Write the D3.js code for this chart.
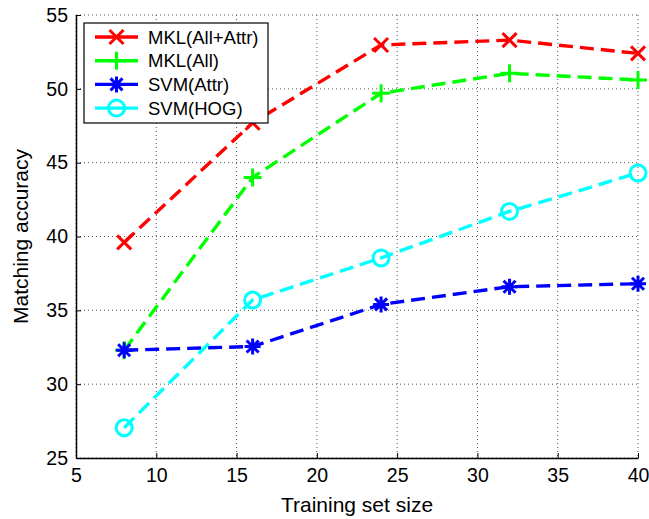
<!DOCTYPE html>
<html><head><meta charset="utf-8">
<script src="https://cdn.jsdelivr.net/npm/d3@7"></script>
<style>body{margin:0;background:#fff}svg{display:block}text{font-family:"Liberation Sans",Arial,sans-serif;fill:#000}</style>
</head><body><svg id="c" width="649" height="519"></svg>
<script>
const trainSizes = [8, 16, 24, 32, 40];
const mklAllAttr = [39.6, 47.7, 52.97, 53.3, 52.4];
const mklAll = [32.3, 44.0, 49.7, 51.05, 50.6];
const svmAttr = [32.3, 32.55, 35.4, 36.6, 36.8];
const svmHog = [27.05, 35.7, 38.55, 41.7, 44.3];
const xTicks = [5, 10, 15, 20, 25, 30, 35, 40];
const yTicks = [25, 30, 35, 40, 45, 50, 55];
const seriesNames = ["MKL(All+Attr)", "MKL(All)", "SVM(Attr)", "SVM(HOG)"];
const seriesColors = ["#ff0000", "#00ff00", "#0000ff", "#00ffff"];
const seriesMarkers = ["x", "plus", "star", "circle"];
const seriesValues = [mklAllAttr, mklAll, svmAttr, svmHog];

const svg = d3.select("#c");
const L = 76, R = 638, T = 15, B = 458;
const x = d3.scaleLinear().domain([5, 40]).range([L, R]);
const y = d3.scaleLinear().domain([25, 55]).range([B, T]);

// grid
const g = svg.append("g");
g.selectAll(".vg").data(xTicks).join("line")
  .attr("x1", d => x(d)).attr("x2", d => x(d)).attr("y1", T).attr("y2", B)
  .attr("stroke", "#555").attr("stroke-width", 1).attr("stroke-dasharray", "1,3");
g.selectAll(".hg").data(yTicks).join("line")
  .attr("x1", L).attr("x2", R).attr("y1", d => y(d)).attr("y2", d => y(d))
  .attr("stroke", "#555").attr("stroke-width", 1).attr("stroke-dasharray", "1,3");

// axes
const xAxis = d3.axisBottom(x).tickValues(xTicks).tickSizeInner(-5).tickSizeOuter(0).tickPadding(10);
const yAxis = d3.axisLeft(y).tickValues(yTicks).tickSizeInner(-5).tickSizeOuter(0).tickPadding(8);
const gx = svg.append("g").attr("transform", `translate(0,${B})`).call(xAxis);
const gy = svg.append("g").attr("transform", `translate(${L},0)`).call(yAxis);
[gx, gy].forEach(a => {
  a.select(".domain").attr("stroke", "#000").attr("stroke-width", 1.5);
  a.selectAll(".tick line").attr("stroke", "#000");
  a.selectAll(".tick text").style("font-size", "19.5px").style("font-family", '"Liberation Sans",Arial,sans-serif').attr("fill", "#000");
});

svg.append("text").attr("x", (L + R) / 2).attr("y", 512).attr("text-anchor", "middle")
  .style("font-size", "21px").text("Training set size");
svg.append("text").attr("transform", `translate(28,${(T + B) / 2}) rotate(-90)`).attr("text-anchor", "middle")
  .style("font-size", "21px").text("Matching accuracy");

function marker(sel, type, color) {
  const s = 7;
  if (type === "x") {
    sel.append("path").attr("d", `M${-s},${-s}L${s},${s}M${-s},${s}L${s},${-s}`)
      .attr("stroke", color).attr("stroke-width", 3).attr("fill", "none");
  } else if (type === "plus") {
    sel.append("path").attr("d", `M${-9},0L9,0M0,-9L0,9`)
      .attr("stroke", color).attr("stroke-width", 3).attr("fill", "none");
  } else if (type === "star") {
    const a = 8, b = 6;
    sel.append("path").attr("d", `M${-a},0L${a},0M0,${-a}L0,${a}M${-b},${-b}L${b},${b}M${-b},${b}L${b},${-b}`)
      .attr("stroke", color).attr("stroke-width", 3).attr("fill", "none");
  } else {
    sel.append("circle").attr("r", 8).attr("stroke", color).attr("stroke-width", 3).attr("fill", "none");
  }
}

const line = d3.line().x((d, i) => x(trainSizes[i])).y(d => y(d));
seriesValues.forEach((vals, k) => {
  const sg = svg.append("g");
  sg.append("path").datum(vals).attr("d", line).attr("fill", "none")
    .attr("stroke", seriesColors[k]).attr("stroke-width", 3.4).attr("stroke-dasharray", "14,7");
  vals.forEach((v, i) => {
    const m = sg.append("g").attr("transform", `translate(${x(trainSizes[i])},${y(v)})`);
    marker(m, seriesMarkers[k], seriesColors[k]);
  });
});

// legend
const lg = svg.append("g");
lg.append("rect").attr("x", 84).attr("y", 23).attr("width", 184).attr("height", 100)
  .attr("fill", "#fff").attr("stroke", "#000").attr("stroke-width", 1.2);
seriesNames.forEach((n, k) => {
  const yy = 37 + k * 23.7;
  lg.append("line").attr("x1", 95).attr("x2", 138).attr("y1", yy).attr("y2", yy)
    .attr("stroke", seriesColors[k]).attr("stroke-width", 3.4);
  const m = lg.append("g").attr("transform", `translate(116.5,${yy})`);
  marker(m, seriesMarkers[k], seriesColors[k]);
  lg.append("text").attr("x", 148).attr("y", yy + 6.5).style("font-size", "18.5px").text(n);
});
</script></body></html>
